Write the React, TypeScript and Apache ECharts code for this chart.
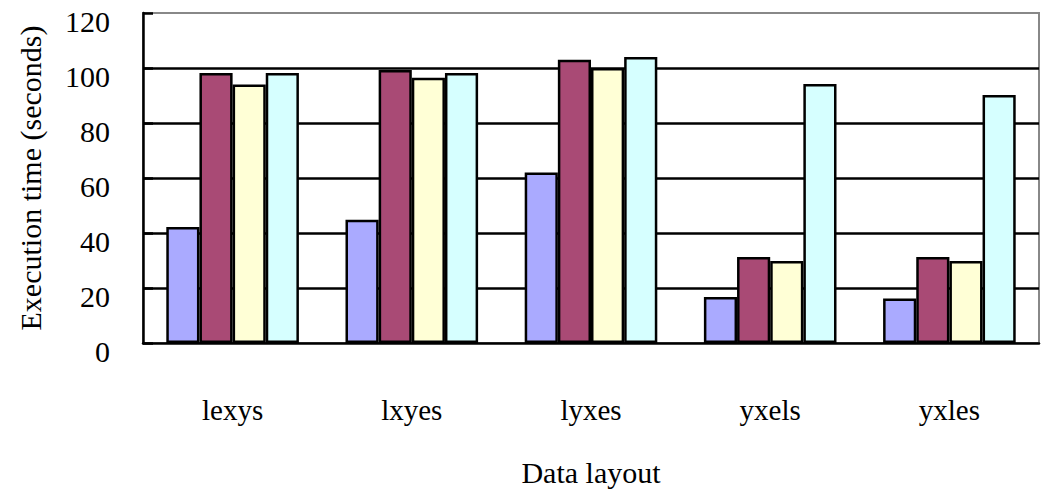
import React, { useEffect, useRef } from "react";
import * as echarts from "echarts";

const categories = ["lexys", "lxyes", "lyxes", "yxels", "yxles"];
const seriesNames = ["S1", "S2", "S3", "S4"];
const s1 = [42.2, 44.8, 62, 16.7, 16.2];
const s2 = [98.2, 99.3, 103, 31.3, 31.3];
const s3 = [94, 96.5, 100, 29.8, 29.8];
const s4 = [98.2, 98.2, 104, 94.2, 90.2];
const colors = ["#AAAAFF", "#A94A75", "#FFFFD6", "#D6FFFF"];
const yTicks = [0, 20, 40, 60, 80, 100, 120];

const FONT = "'Liberation Serif', 'Times New Roman', serif";

export default function App() {
  const ref = useRef<HTMLDivElement>(null);
  useEffect(() => {
    if (!ref.current) return;
    const chart = echarts.init(ref.current, undefined, { renderer: "svg" });
    const data = [s1, s2, s3, s4];
    chart.setOption({
      animation: false,
      backgroundColor: "#fff",
      grid: {
        left: 143,
        right: 8,
        top: 13,
        bottom: 146,
        containLabel: false,
        outerBoundsMode: "none",
        show: true,
        borderColor: "#888",
        borderWidth: 2,
      },
      xAxis: {
        type: "category",
        data: categories,
        name: "Data layout",
        nameLocation: "middle",
        nameGap: 114,
        nameTextStyle: { fontFamily: FONT, fontSize: 30, color: "#000" },
        axisLine: { lineStyle: { color: "#000", width: 2.5 } },
        axisTick: { inside: true, length: 10, lineStyle: { color: "#000", width: 2.5 } },
        axisLabel: { fontFamily: FONT, fontSize: 29, color: "#000", margin: 52 },
      },
      yAxis: {
        type: "value",
        min: yTicks[0],
        max: yTicks[yTicks.length - 1],
        interval: 20,
        name: "Execution time (seconds)",
        nameLocation: "middle",
        nameGap: 98,
        nameTextStyle: { fontFamily: FONT, fontSize: 30, color: "#000" },
        axisLine: { show: true, lineStyle: { color: "#000", width: 2.5 } },
        axisTick: { show: true, inside: true, length: 10, lineStyle: { color: "#000", width: 2.5 } },
        axisLabel: {
          fontFamily: FONT,
          fontSize: 30,
          color: "#000",
          margin: 33,
          verticalAlign: "top",
          lineHeight: 16,
        },
        splitLine: {
          show: true,
          showMinLine: false,
          showMaxLine: false,
          lineStyle: { color: "#000", width: 2.5 },
        },
      },
      series: data.map((d, i) => ({
        name: seriesNames[i],
        type: "bar",
        data: d,
        barGap: "0%",
        barCategoryGap: "26%",
        itemStyle: { color: colors[i], borderColor: "#000", borderWidth: 2.5 },
      })),
    });
    return () => chart.dispose();
  }, []);
  return (
    <div
      ref={ref}
      style={{ position: "absolute", left: 0, top: 0, width: 1047, height: 489 }}
    />
  );
}
